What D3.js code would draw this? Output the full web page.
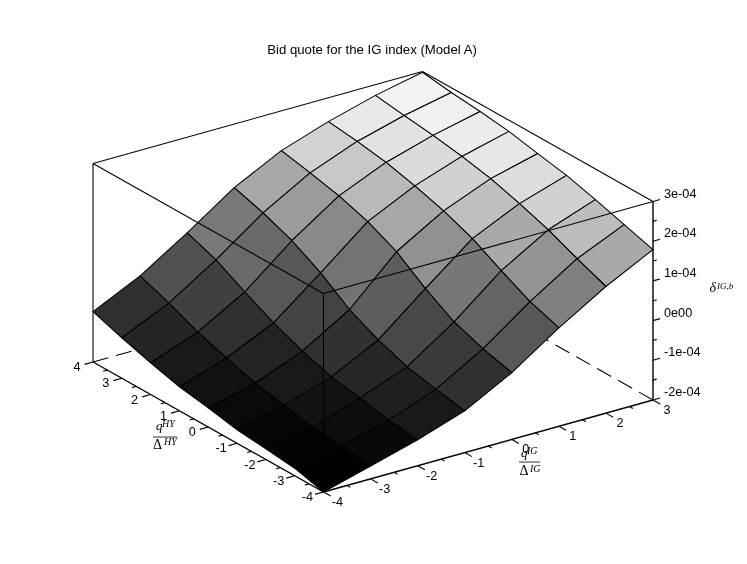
<!DOCTYPE html>
<html>
<head>
<meta charset="utf-8">
<script src="https://cdn.jsdelivr.net/npm/d3@7"></script>
<style>
  body { margin: 0; background: #fff; }
  svg { display: block; will-change: transform; }
  text { font-family: "Liberation Sans", Arial, sans-serif; font-size: 12.7px; fill: #000; }
  text.math { font-family: "Liberation Serif", "Times New Roman", serif; font-style: italic; }
  text.upright { font-family: "Liberation Serif", "Times New Roman", serif; }
</style>
</head>
<body>
<div id="chart"></div>
<script>
const title = "Bid quote for the IG index (Model A)";
const igValues = [-4, -3, -2, -1, 0, 1, 2, 3];
const hyValues = [-4, -3, -2, -1, 0, 1, 2, 3, 4];
const zTicks = [-2, -1, 0, 1, 2, 3];
const zTickLabels = ["-2e-04", "-1e-04", "0e00", "1e-04", "2e-04", "3e-04"];

// bid quote in units of 1e-4, one list per IG value, running along hyValues
const bidIgM4 = [-2.00, -1.81, -1.73, -1.66, -1.52, -1.40, -1.20, -0.98, -0.73];
const bidIgM3 = [-1.68, -1.58, -1.52, -1.37, -1.23, -1.00, -0.76, -0.44, -0.16];
const bidIgM2 = [-1.35, -1.26, -1.11, -0.99, -0.75, -0.45, -0.08, 0.32, 0.59];
const bidIgM1 = [-0.95, -0.81, -0.66, -0.39, -0.04, 0.48, 0.88, 1.17, 1.40];
const bidIg0 = [-0.32, -0.13, 0.14, 0.57, 1.09, 1.44, 1.68, 1.85, 2.00];
const bidIg1 = [0.48, 0.73, 1.10, 1.50, 1.79, 2.01, 2.19, 2.31, 2.40];
const bidIg2 = [1.19, 1.48, 1.80, 2.05, 2.27, 2.42, 2.54, 2.63, 2.73];
const bidIg3 = [1.79, 2.01, 2.23, 2.43, 2.57, 2.72, 2.81, 2.88, 2.98];
const bidRows = [bidIgM4, bidIgM3, bidIgM2, bidIgM1, bidIg0, bidIg1, bidIg2, bidIg3];

const drawChart = () => {
  const svg = d3.select("#chart")
      .append("svg")
      .attr("width", 747)
      .attr("height", 564);

  // oblique projection of the box, one scale per screen contribution
  const igX = d3.scaleLinear().domain([-4, 3]).range([0, 329.5]);
  const igY = d3.scaleLinear().domain([-4, 3]).range([0, -92]);
  const hyX = d3.scaleLinear().domain([-4, 4]).range([0, -230.5]);
  const hyY = d3.scaleLinear().domain([-4, 4]).range([0, -130]);
  const zY = d3.scaleLinear().domain([-2, 3]).range([492, 293.5]);
  const project = (ig, hy, z) => [323.5 + igX(ig) + hyX(hy), zY(z) + igY(ig) + hyY(hy)];

  const gray = d3.scaleLinear()
      .domain([-1.8, -1.47, -0.6, 0.88, 1.66, 2.14, 2.52, 2.85])
      .range([0, 9, 46, 122, 172, 210, 232, 245])
      .clamp(true);

  const seg = (a, b, width, dash) => {
    const p = project(...a);
    const q = project(...b);
    return svg.append("line")
        .attr("x1", p[0]).attr("y1", p[1])
        .attr("x2", q[0]).attr("y2", q[1])
        .attr("stroke", "#000")
        .attr("stroke-width", width || 1.1)
        .attr("stroke-dasharray", dash || null);
  };

  const label = (x, y, str, size, cls, anchor) => svg.append("text")
      .attr("x", x)
      .attr("y", y)
      .attr("class", cls || null)
      .attr("text-anchor", anchor || "start")
      .style("font-size", size ? size + "px" : null)
      .text(str);

  // hidden floor edges, the surface paints over most of them
  seg([-4, 4, -2], [3, 4, -2], 1.1, "16,8");
  seg([3, -4, -2], [3, 4, -2], 1.1, "16,8");

  // back edges of the box
  seg([-4, 4, -2], [-4, 4, 3]);
  seg([-4, 4, 3], [3, 4, 3]);
  seg([3, 4, 3], [3, -4, 3]);

  // surface, far facets first
  const facets = [];
  for (let i = igValues.length - 2; i >= 0; i--) {
    for (let j = hyValues.length - 2; j >= 0; j--) {
      facets.push([[i, j], [i + 1, j], [i + 1, j + 1], [i, j + 1]]);
    }
  }
  const line = d3.line();
  svg.append("g").selectAll("path").data(facets).enter().append("path")
      .attr("d", f => line(f.map(([i, j]) => project(igValues[i], hyValues[j], bidRows[i][j]))) + "Z")
      .attr("fill", f => {
        const g = Math.round(gray(d3.mean(f, ([i, j]) => bidRows[i][j])));
        return d3.rgb(g, g, g);
      })
      .attr("stroke", "#000")
      .attr("stroke-width", 1.05)
      .attr("stroke-linejoin", "round");

  // front edges of the box go over the surface
  seg([-4, 4, 3], [-4, -4, 3]);
  seg([3, -4, 3], [-4, -4, 3]);
  seg([-4, -4, -2], [-4, -4, 3]);

  // axes
  seg([-4, -4, -2], [3, -4, -2], 1.4);
  seg([-4, -4, -2], [-4, 4, -2], 1.4);
  seg([3, -4, -2], [3, -4, 3], 1.4);

  igValues.forEach((v, n) => {
    seg([v, -4, -2], [v, -4.25, -2]);
    if (n < igValues.length - 1) seg([v + 0.5, -4, -2], [v + 0.5, -4.12, -2]);
    const p = project(v, -4, -2);
    label(p[0] + 14, p[1] + 14, v, null, null, "middle");
  });

  hyValues.forEach((v, n) => {
    seg([-4, v, -2], [-4.18, v, -2]);
    if (n < hyValues.length - 1) seg([-4, v + 0.5, -2], [-4.09, v + 0.5, -2]);
    const p = project(-4, v, -2);
    label(p[0] - 16, p[1] + 9, v, null, null, "middle");
  });

  zTicks.forEach((v, n) => {
    seg([3, -4, v], [3.15, -4, v]);
    if (n < zTicks.length - 1) seg([3, -4, v + 0.5], [3.08, -4, v + 0.5]);
    const p = project(3, -4, v);
    label(664, p[1] - 4, zTickLabels[n]);
  });

  label(372, 54, title, 13.2, null, "middle");

  // axis titles
  label(709.5, 292, "δ", 14, "math");
  label(717, 289, "IG,b", 9, "math");

  label(156, 430, "q", 13, "math");
  label(162, 427, "HY", 10, "math");
  svg.append("line").attr("x1", 153).attr("x2", 177).attr("y1", 437).attr("y2", 437)
      .attr("stroke", "#000").attr("stroke-width", 0.8);
  label(153, 448.5, "Δ", 14, "upright");
  label(164, 445, "HY", 10, "math");

  label(521, 457, "q", 13, "math");
  label(527, 454, "IG", 10, "math");
  svg.append("line").attr("x1", 519).attr("x2", 540).attr("y1", 462).attr("y2", 462)
      .attr("stroke", "#000").attr("stroke-width", 0.8);
  label(519.5, 475, "Δ", 14, "upright");
  label(530, 472, "IG", 10, "math");
};

window.onload = drawChart;
</script>
</body>
</html>
